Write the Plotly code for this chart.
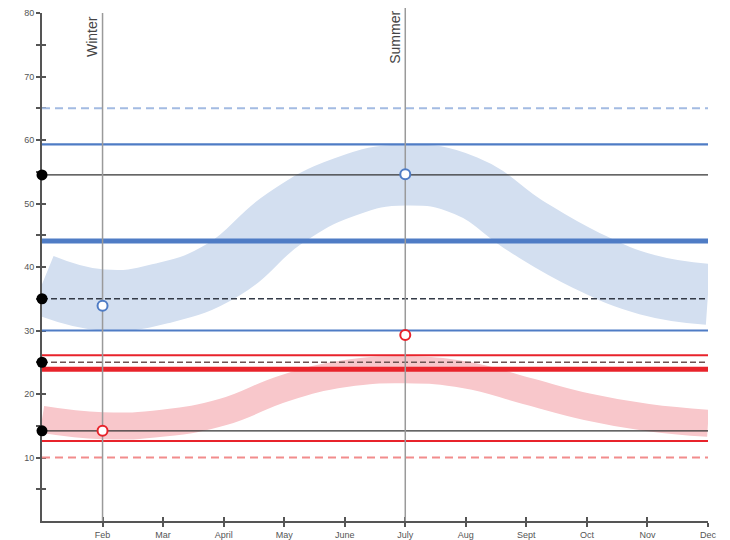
import plotly.graph_objects as go

# ---------------- data ----------------
MONTHS = ['Jan', 'Feb', 'Mar', 'April', 'May', 'June', 'July', 'Aug', 'Sept', 'Oct', 'Nov', 'Dec']
month_x = list(range(len(MONTHS)))
Y_MAX = 80
y_ticks = [5, 10, 15, 20, 25, 30, 35, 40, 45, 50, 55, 60, 65, 70, 75, 80]
y_ticktext = ['', '10', '', '20', '', '30', '', '40', '', '50', '', '60', '', '70', '', '80']

# centre lines of the seasonal bands
blue_band = [37.3, 34.8, 35.9, 39.6, 47.6, 52.6, 54.5, 52.8, 46.4, 41.0, 37.2, 35.7]
red_band = [16.0, 15.0, 15.4, 17.2, 20.9, 23.2, 23.8, 23.0, 20.5, 18.0, 16.3, 15.4]

blue_levels = [65.0, 59.3, 44.1, 30.0]      # dashed max, high, mean, low
red_levels = [26.1, 23.9, 12.6, 10.0]       # high, mean, low, dashed min
black_levels = [54.5, 35.0, 25.0, 14.2]

point_x = [1, 6]
blue_points = [33.9, 54.6]
red_points = [14.2, 29.3]

season_names = ['Winter', 'Summer']
season_x = [1, 6]
season_top = [80.0, 81.6]

# ---------------- layout constants ----------------
W, H = 730, 540
M = dict(l=34, r=30, t=5, b=27)
PLOT_H = H - M['t'] - M['b']
PAPER_TOP = 1 + M['t'] / PLOT_H

# ---------------- styles ----------------
BLUE = '#4f7cc5'
RED = '#e8232b'
blue_styles = [dict(color='#a3bbe2', width=2, dash='8px,5px'),
               dict(color=BLUE, width=2.2, dash='solid'),
               dict(color=BLUE, width=5, dash='solid'),
               dict(color=BLUE, width=2, dash='solid')]
red_styles = [dict(color=RED, width=2, dash='solid'),
              dict(color=RED, width=5, dash='solid'),
              dict(color=RED, width=2, dash='solid'),
              dict(color='#f28c8c', width=2, dash='8px,5px')]
black_styles = [dict(color='#333333', width=1.2, dash='solid'),
                dict(color='#333a46', width=1.5, dash='6px,3px'),
                dict(color='#6e5252', width=1.5, dash='6px,3px'),
                dict(color='#333333', width=1.2, dash='solid')]
SEASON_LINE = dict(color='#9a9a9a', width=1.5)

fig = go.Figure()

# bands (thick smooth strokes)
fig.add_trace(go.Scatter(x=month_x, y=blue_band, mode='lines',
                         line=dict(color='#d3dff0', width=61, shape='spline', smoothing=1.3),
                         hoverinfo='skip', showlegend=False))
fig.add_trace(go.Scatter(x=month_x, y=red_band, mode='lines',
                         line=dict(color='#f8c7cb', width=27, shape='spline', smoothing=1.3),
                         hoverinfo='skip', showlegend=False))

x_span = [month_x[0], month_x[-1]]
for vals, styles in ((blue_levels, blue_styles), (red_levels, red_styles), (black_levels, black_styles)):
    for v, st in zip(vals, styles):
        fig.add_trace(go.Scatter(x=x_span, y=[v, v], mode='lines', line=st,
                                 hoverinfo='skip', showlegend=False))

# season vertical lines
for sx, top in zip(season_x, season_top):
    fig.add_trace(go.Scatter(x=[sx, sx], y=[0, top], mode='lines', line=SEASON_LINE,
                             hoverinfo='skip', showlegend=False))
    if top > Y_MAX:
        fig.add_shape(type='line', xref='x', yref='paper', x0=sx, x1=sx,
                      y0=1.0, y1=min(top / Y_MAX, PAPER_TOP), line=SEASON_LINE)

for name, sx, top in zip(season_names, season_x, season_top):
    fig.add_annotation(x=sx, y=min(top / Y_MAX, PAPER_TOP), xref='x', yref='paper', text=name,
                       textangle=-90, showarrow=False, xanchor='right', yanchor='top',
                       xshift=-1, yshift=-1,
                       font=dict(family='Liberation Sans, Arial, sans-serif', size=14, color='#444444'))

# markers live on an overlay subplot so they sit above the axis ticks
fig.add_trace(go.Scatter(x=point_x, y=blue_points, mode='markers', xaxis='x2', yaxis='y2',
                         marker=dict(size=10, color='white', line=dict(color=BLUE, width=2)),
                         cliponaxis=False, showlegend=False))
fig.add_trace(go.Scatter(x=point_x, y=red_points, mode='markers', xaxis='x2', yaxis='y2',
                         marker=dict(size=10, color='white', line=dict(color=RED, width=2)),
                         cliponaxis=False, showlegend=False))
fig.add_trace(go.Scatter(x=[month_x[0]] * len(black_levels), y=black_levels, mode='markers',
                         xaxis='x2', yaxis='y2',
                         marker=dict(size=11, color='black'), cliponaxis=False, showlegend=False))

tickfont = dict(family='Liberation Sans, Arial, sans-serif', size=9, color='#555555')
xr = [month_x[0], month_x[-1]]
common = dict(showgrid=False, zeroline=False, automargin=False, layer='below traces',
              ticklen=4, tickwidth=1.5, tickcolor='#555555')
fig.update_layout(
    width=W, height=H,
    margin=dict(**M, autoexpand=False),
    paper_bgcolor='white', plot_bgcolor='white',
    showlegend=False,
    xaxis=dict(range=xr, showline=True, linecolor='#555555', linewidth=2, ticks='outside',
               tickvals=month_x[1:], ticktext=MONTHS[1:], tickfont=tickfont, **common),
    yaxis=dict(range=[0, Y_MAX], showline=True, linecolor='#555555', linewidth=2, ticks='outside',
               tickvals=y_ticks, ticktext=y_ticktext, tickfont=tickfont, **common),
    xaxis2=dict(range=xr, overlaying='x', anchor='y2', showline=False, ticks='inside',
                tickvals=month_x[1:], showticklabels=False, **common),
    yaxis2=dict(range=[0, Y_MAX], overlaying='y', anchor='x2', showline=False, ticks='inside',
                tickvals=y_ticks, showticklabels=False, **common),
)

fig.write_html('out.html')
